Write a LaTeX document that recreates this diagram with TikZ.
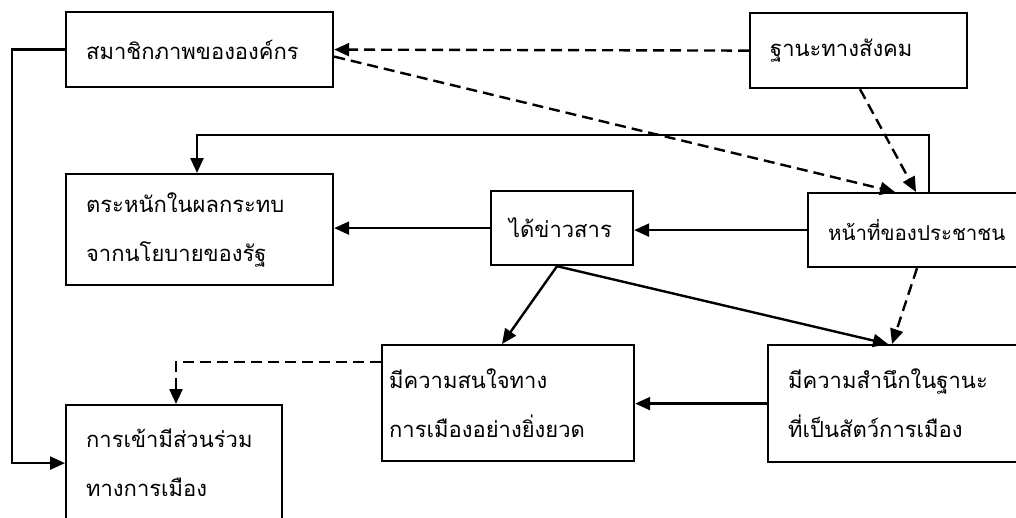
\documentclass[tikz,border=0pt]{standalone}
\usepackage{fontspec}
\newfontfamily\thai[Script=Thai]{Loma}
\usetikzlibrary{arrows.meta}

\begin{document}
\begin{tikzpicture}[x=1pt, y=-1pt]
            \tikzset{box/.style={draw, line width=2.2pt, anchor=north west, align=left, inner xsep=20pt, inner ysep=0pt, font=\thai\fontsize{22}{49}\selectfont}}
            \tikzset{link/.style={line width=2.4pt, ->, >={Triangle[length=15pt, width=13pt]}}}
            \tikzset{dashlink/.style={link, dash pattern=on 11pt off 6pt}}
            \useasboundingbox (0, 0) rectangle (1016, 517);
            \clip (0, 0) rectangle (1016, 517);
            \node[box, text width=227pt, minimum height=75pt] (memb) at (65, 11) {สมาชิกภาพขององค์กร};
            \node[box, text width=177pt, minimum height=75pt] (status) at (749, 12) {ฐานะทางสังคม};
            \node[box, text width=227pt, minimum height=111pt] (aware) at (65, 173) {ตระหนักในผลกระทบ\\จากนโยบายของรัฐ};
            \node[box, inner xsep=18pt, text width=106pt, minimum height=74pt] (info) at (490, 190) {ได้ข่าวสาร};
            \node[box, text width=193pt, minimum height=74pt, font=\thai\fontsize{20.5}{49}\selectfont] (duty) at (807, 192) {หน้าที่ของประชาชน};
            \node[box, inner xsep=7pt, text width=238pt, minimum height=116pt] (interest) at (381, 344) {มีความสนใจทาง\\การเมืองอย่างยิ่งยวด};
            \node[box, text width=233pt, minimum height=117pt] (conscious) at (767, 344) {มีความสำนึกในฐานะ\\ที่เป็นสัตว์การเมือง};
            \node[box, text width=176pt, minimum height=116pt] (part) at (65, 404) {การเข้ามีส่วนร่วม\\ทางการเมือง};
            % dashed links
            \draw[dashlink] (status.west) -- (memb.east);
            \draw[dashlink] ([yshift=-7pt]memb.east) -- ([xshift=88pt]duty.north west);
            \draw[dashlink] ([xshift=111pt]status.south west) -- ([xshift=109pt]duty.north west);
            \draw[dashlink] ([xshift=110pt]duty.south west) -- ([xshift=125pt]conscious.north west);
            \draw[dashlink] ([yshift=-18pt]interest.north west) -| ([xshift=111pt]part.north west);
            % solid links
            \draw[link] (memb.west) -- ++(-53, 0) |- (part.west);
            \draw[link] ([xshift=122pt]duty.north west) -- ++(0, -57) -| ([xshift=132pt]aware.north west);
            \draw[link] (info.west) -- (info.west -| aware.east);
            \draw[link] (duty.west) -- (duty.west -| info.east);
            \draw[link] ([xshift=67pt]info.south west) -- ([xshift=121pt]interest.north west);
            \draw[link] ([xshift=67pt]info.south west) -- ([xshift=121pt]conscious.north west);
            \draw[link] (conscious.west) -- (conscious.west -| interest.east);
        \end{tikzpicture}
\end{document}
